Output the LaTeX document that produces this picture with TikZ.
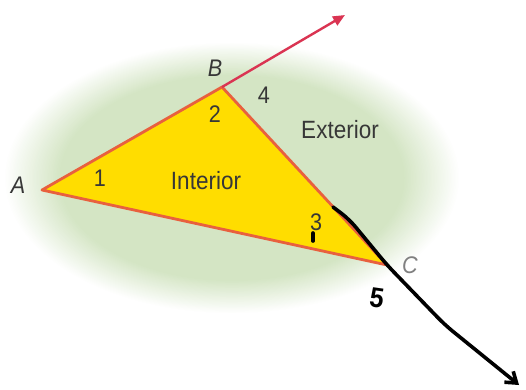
\documentclass[tikz,border=0pt]{standalone}
\usepackage{fontspec}
\setmainfont{Liberation Sans}[FakeStretch=0.9]
\usetikzlibrary{arrows.meta}
\definecolor{glowgreen}{RGB}{212,229,196}
\definecolor{triyellow}{RGB}{255,221,0}
\definecolor{edgered}{RGB}{232,96,62}
\definecolor{rayred}{RGB}{218,52,82}
\definecolor{labgray}{RGB}{55,55,55}
\tikzset{
  lbl/.style={text=labgray, font=\fontsize{24}{24}\selectfont, inner sep=0pt},
  vlbl/.style={lbl, font=\fontsize{24}{24}\selectfont\itshape},
  region/.style={lbl, font=\fontsize{25}{25}\selectfont},
  hand/.style={black, line width=3.6pt, line cap=round, line join=round},
}
\begin{document}
\begin{tikzpicture}[x=1pt,y=-1pt]
\useasboundingbox (0,0) rectangle (526,389);
\clip (0,0) rectangle (526,389);
\fill[white] (0,0) rectangle (526,389);
\foreach \i in {0,...,40}{
  \pgfmathsetmacro{\fac}{1.06-0.26*\i/40}
  \pgfmathsetmacro{\pct}{2.5*\i}
  \fill[glowgreen!\pct!white] (232,178) ellipse [x radius=215*\fac, y radius=128*\fac];
}
\coordinate (A) at (42,190);
\coordinate (B) at (222,87);
\coordinate (C) at (387,265);
\coordinate (R) at (345,15);
\fill[triyellow] (A) -- (B) -- (C) -- cycle;
\draw[edgered, line width=2.8pt, line join=round] (A) -- (B) -- (C) -- cycle;
\draw[rayred, line width=2.4pt, -{Triangle[length=12pt,width=10pt]}] (B) -- (R);
\node[region] (int) at (206,181) {Interior};
\node[region] (ext) at (340,130) {Exterior};
\node[vlbl] (la) at (18,185) {A};
\node[vlbl] (lb) at (215,68) {B};
\node[vlbl, text=gray] (lc) at (410,265) {C};
\node[lbl] (n1) at (100,178) {1};
\node[lbl] (n2) at (215,114) {2};
\node[lbl] (n3) at (316,222) {3};
\node[lbl] (n4) at (264,95) {4};
\coordinate (h0) at (333,207);
\coordinate (h1) at (349,219);
\coordinate (h2) at (445,325);
\coordinate (h3) at (519,385);
\draw[hand, rounded corners=10pt, -{Straight Barb[length=10pt,width=14pt,line width=3.6pt]}] (h0) -- (h1) -- (C) -- (h2) -- (h3);
\draw[hand] (313,233) -- (313,241);
\node[font=\fontsize{28}{28}\selectfont\bfseries, text=black, rotate=-8, inner sep=0pt] (n5) at (377,298) {5};
\end{tikzpicture}
\end{document}
